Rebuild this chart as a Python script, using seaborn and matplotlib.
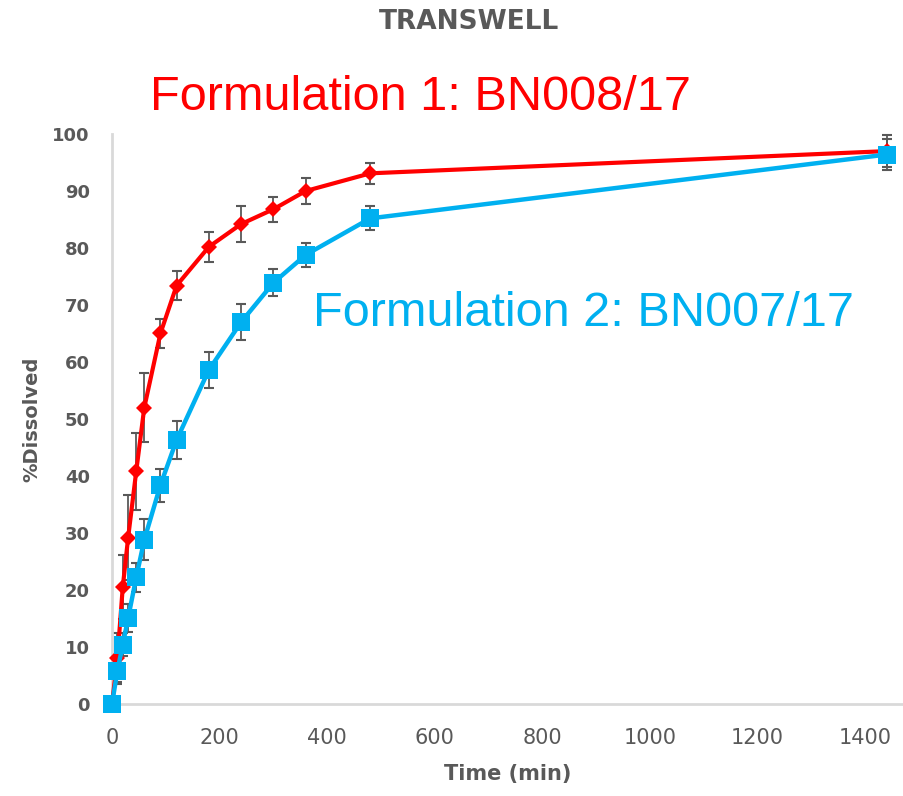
import matplotlib
matplotlib.use('Agg')
import matplotlib.pyplot as plt
import seaborn as sns
import pandas as pd

time_min = [0, 10, 20, 30, 45, 60, 90, 120, 180, 240, 300, 360, 480, 1440]
f1_dissolved = [0, 8.0, 20.5, 29.2, 40.8, 52.0, 65.0, 73.4, 80.2, 84.2, 86.8, 90.0, 93.1, 97.0]
f1_err = [0, 4.5, 5.6, 7.4, 6.7, 6.1, 2.5, 2.6, 2.6, 3.1, 2.2, 2.2, 1.8, 2.8]
f2_dissolved = [0, 5.8, 10.4, 15.1, 22.2, 28.8, 38.4, 46.3, 58.6, 67.0, 73.9, 78.8, 85.2, 96.4]
f2_err = [0, 2.0, 2.0, 2.5, 2.6, 3.6, 2.9, 3.4, 3.2, 3.1, 2.4, 2.1, 2.1, 2.8]

labels = ['Formulation 1: BN008/17', 'Formulation 2: BN007/17']
colors = ['#FF0000', '#00B0F0']
grey = '#595959'

df = pd.DataFrame({
    'Time': time_min * 2,
    'Dissolved': f1_dissolved + f2_dissolved,
    'Err': f1_err + f2_err,
    'Formulation': [labels[0]] * len(time_min) + [labels[1]] * len(time_min),
})

sns.set_style('white')
fig = plt.figure(figsize=(9.04, 7.96), dpi=100)
ax = fig.add_axes([112 / 904, 92 / 796, 792 / 904, 570 / 796])

# error bars behind the markers
for lab in labels:
    sub = df[df['Formulation'] == lab]
    ax.errorbar(sub['Time'], sub['Dissolved'], yerr=sub['Err'], fmt='none',
                ecolor=grey, elinewidth=1.3, capsize=3.5, capthick=1.5,
                zorder=2, clip_on=False)

# red first, blue drawn over it (as in the original)
sns.lineplot(data=df[df['Formulation'] == labels[0]], x='Time', y='Dissolved',
             color=colors[0], marker='D', markersize=8.5, markeredgewidth=0,
             linewidth=3.0, ax=ax, zorder=3, clip_on=False)
sns.lineplot(data=df[df['Formulation'] == labels[1]], x='Time', y='Dissolved',
             color=colors[1], marker='s', markersize=12.5, markeredgewidth=0,
             linewidth=3.2, ax=ax, zorder=3.5, clip_on=False)

ax.set_xlim(0, 1472)
ax.set_ylim(0, 100)
ax.set_xticks(range(0, 1401, 200))
ax.set_yticks(range(0, 101, 10))

for s in ['top', 'right']:
    ax.spines[s].set_visible(False)
for s in ['left', 'bottom']:
    ax.spines[s].set_color('#D9D9D9')
    ax.spines[s].set_linewidth(2)

ax.tick_params(axis='y', length=0, pad=16, labelsize=13, labelcolor=grey)
ax.tick_params(axis='x', length=0, pad=17, labelsize=15, labelcolor=grey)
for t in ax.get_yticklabels():
    t.set_fontweight('bold')

ax.set_xlabel('Time (min)', fontsize=15, fontweight='bold', color=grey, labelpad=12)
ax.set_ylabel('%Dissolved', fontsize=14, fontweight='bold', color=grey, labelpad=8)

fig.text(469 / 904, 1 - 22 / 796, 'TRANSWELL', ha='center', va='center',
         fontsize=19, fontweight='bold', color=grey)
fig.text(150 / 904, 1 - 98 / 796, labels[0], ha='left', va='center',
         fontsize=35, color=colors[0], family='Liberation Sans')
fig.text(313 / 904, 1 - 314 / 796, labels[1], ha='left', va='center',
         fontsize=35, color=colors[1], family='Liberation Sans')

fig.savefig('out.png', dpi=100)
